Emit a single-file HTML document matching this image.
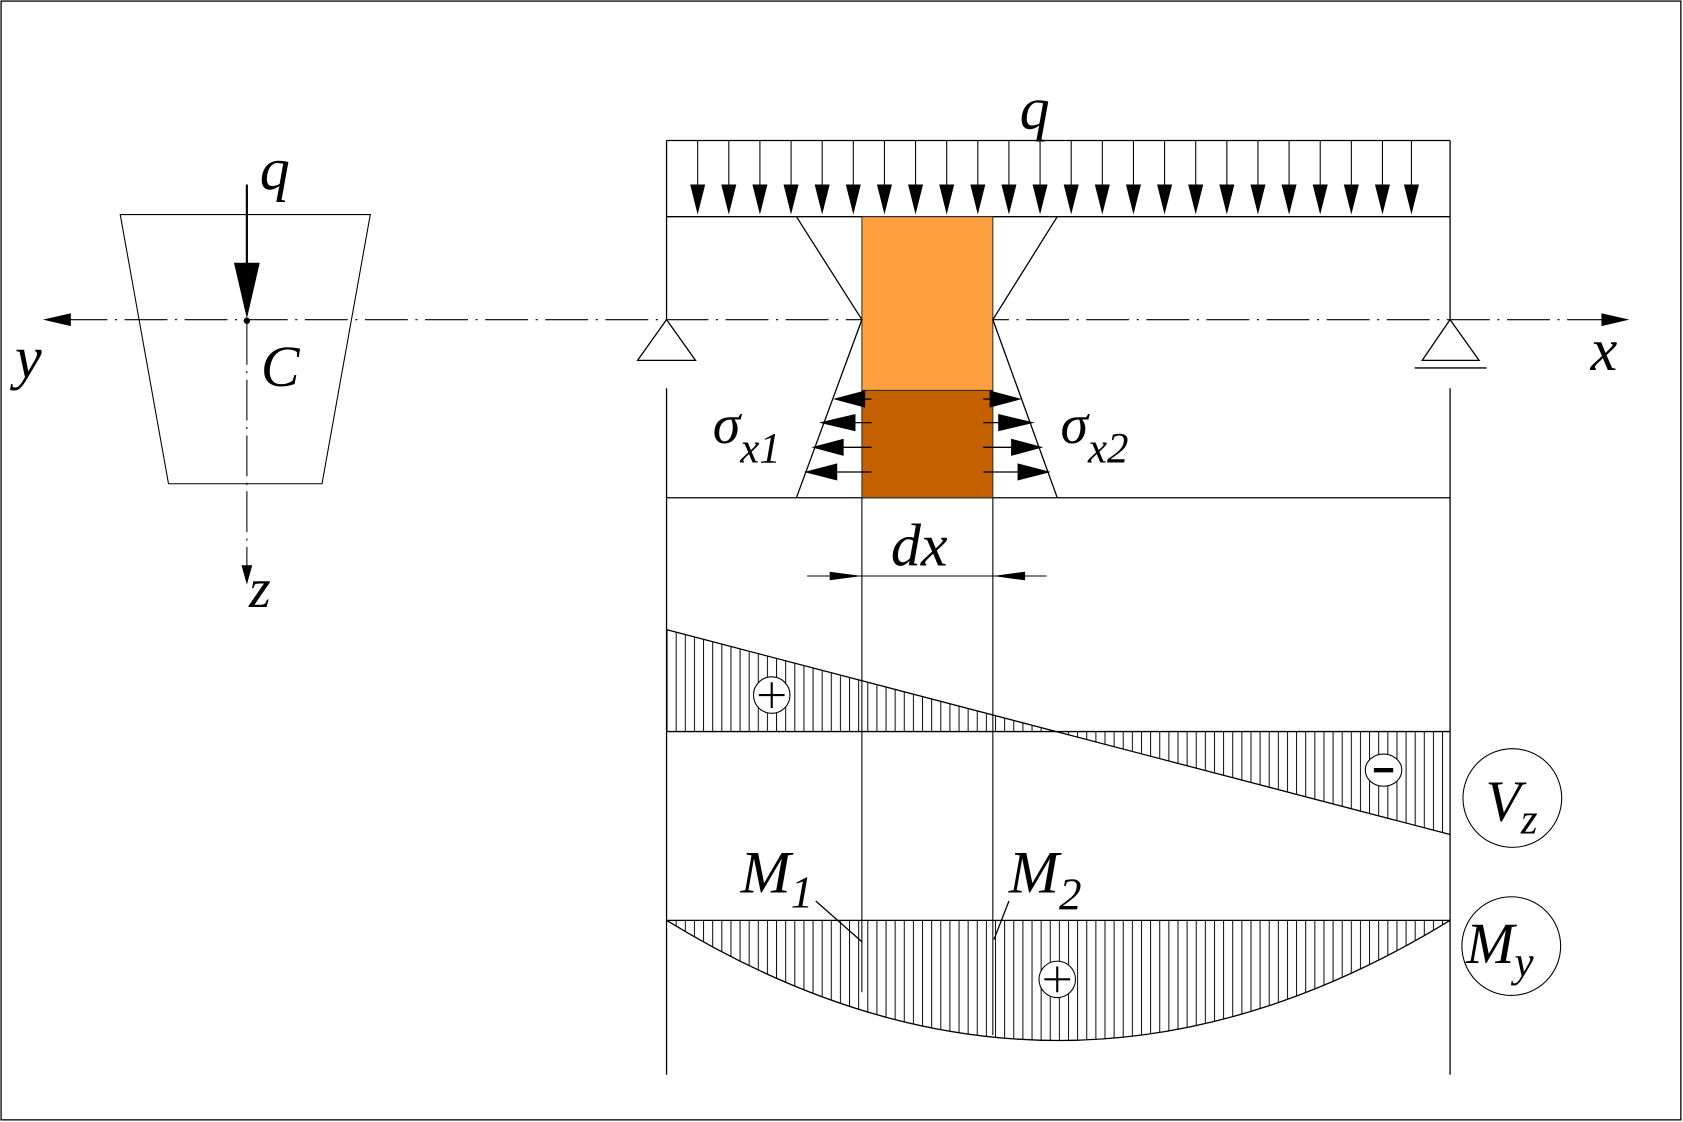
<!DOCTYPE html>
<html><head><meta charset="utf-8"><style>html,body{margin:0;padding:0;background:#fff}svg{display:block}
svg text{font-family:"Liberation Serif","DejaVu Serif",serif;font-style:italic}</style></head>
<body>
<svg width="1683" height="1122" viewBox="0 0 1568 1046" preserveAspectRatio="none" xmlns="http://www.w3.org/2000/svg">
<defs>
<pattern id="h" patternUnits="userSpaceOnUse" width="8.5" height="10" x="621">
<line x1="0.5" y1="0" x2="0.5" y2="10" stroke="#000" stroke-width="0.9"/>
</pattern>
</defs>
<rect x="1" y="1" width="1565" height="1043" fill="#fff" stroke="#000" stroke-width="1.2"/>

<polygon points="112,200 345,200 300,451 157,451" fill="none" stroke="#000" stroke-width="1"/>
<line x1="230" y1="172" x2="230" y2="250" stroke="#000" stroke-width="2"/>
<polygon points="218,245 242,245 230,297" fill="#000"/>
<circle cx="230" cy="299" r="3" fill="#000"/>
<line x1="230" y1="302" x2="230" y2="540" stroke="#000" stroke-width="1" stroke-dasharray="38,6,2,6"/>
<polygon points="225,527 235,527 230,545" fill="#000"/>
<text x="242" y="176" font-size="56">q</text>
<text x="243" y="360" font-size="54">C</text>
<text x="232" y="566" font-size="52">z</text>
<text x="14" y="352" font-size="56">y</text>

<line x1="60" y1="298" x2="1500" y2="298" stroke="#000" stroke-width="1" stroke-dasharray="40,7,2,7"/>
<polygon points="40,298 66,292 66,304" fill="#000"/>
<polygon points="1518,298 1492,292 1492,304" fill="#000"/>
<text x="1482" y="345" font-size="56">x</text>

<g stroke="#000" stroke-width="1.2" fill="none">
<line x1="621" y1="131" x2="1351" y2="131"/>
<line x1="621" y1="202" x2="1351" y2="202"/>
<line x1="621" y1="464" x2="1351" y2="464"/>
<line x1="621" y1="131" x2="621" y2="298"/>
<line x1="1351" y1="131" x2="1351" y2="298"/>
<line x1="621" y1="362" x2="621" y2="1002"/>
<line x1="1351" y1="362" x2="1351" y2="1002"/>
<polygon points="621,298 594,336 648,336"/>
<polygon points="1351,298 1325,336 1378,336"/>
<line x1="1318" y1="343" x2="1385" y2="343"/>
</g>
<text x="950" y="120" font-size="56">q</text>

<g id="arr">
<line x1="650" y1="131" x2="650" y2="175" stroke="#000" stroke-width="1"/>
<polygon points="643,172 657,172 650,200" fill="#000"/>
</g>
<use href="#arr" x="29"/><use href="#arr" x="58"/><use href="#arr" x="87"/><use href="#arr" x="116"/><use href="#arr" x="145"/><use href="#arr" x="174"/><use href="#arr" x="203"/><use href="#arr" x="232"/><use href="#arr" x="261"/><use href="#arr" x="290"/><use href="#arr" x="319"/><use href="#arr" x="348"/><use href="#arr" x="377"/><use href="#arr" x="406"/><use href="#arr" x="435"/><use href="#arr" x="464"/><use href="#arr" x="493"/><use href="#arr" x="522"/><use href="#arr" x="551"/><use href="#arr" x="580"/><use href="#arr" x="609"/><use href="#arr" x="638"/><use href="#arr" x="665"/>

<rect x="803" y="202" width="122" height="162" fill="#FF9F3F" stroke="#333" stroke-width="1"/>
<rect x="803" y="364" width="122" height="100" fill="#C46000" stroke="#333" stroke-width="1"/>
<g stroke="#000" stroke-width="1.2" fill="none">
<polyline points="742,202 803,298 742,464"/>
<polyline points="985,202 925,298 985,464"/>
</g>
<g stroke="#000" stroke-width="1.2">
<line x1="800" y1="372" x2="812" y2="372"/><line x1="790" y1="394" x2="812" y2="394"/><line x1="780" y1="417" x2="812" y2="417"/><line x1="775" y1="440" x2="812" y2="440"/>
<line x1="916" y1="372" x2="930" y2="372"/><line x1="916" y1="394" x2="935" y2="394"/><line x1="916" y1="417" x2="945" y2="417"/><line x1="916" y1="440" x2="950" y2="440"/>
</g>
<g fill="#000">
<polygon points="776,372 806,364 806,380"/>
<polygon points="763,394 797,386 797,402"/>
<polygon points="756,417 786,409 786,425"/>
<polygon points="749,440 780,432 780,448"/>
<polygon points="952,372 922,364 922,380"/>
<polygon points="964,394 930,386 930,402"/>
<polygon points="972,417 942,409 942,425"/>
<polygon points="979,440 948,432 948,448"/>
</g>
<text x="664" y="413" font-size="52">σ<tspan font-size="40" dy="18">x1</tspan></text>
<text x="988" y="413" font-size="52">σ<tspan font-size="40" dy="18">x2</tspan></text>

<g stroke="#000" stroke-width="1">
<line x1="803" y1="464" x2="803" y2="925"/>
<line x1="925" y1="464" x2="925" y2="965"/>
<line x1="752" y1="537" x2="975" y2="537"/>
</g>
<polygon points="803,537 773,533 773,541" fill="#000"/>
<polygon points="925,537 955,533 955,541" fill="#000"/>
<text x="830" y="527" font-size="56">dx</text>

<polygon points="621,587 621,682 984,682" fill="url(#h)"/>
<polygon points="984,682 1351,682 1351,778" fill="url(#h)"/>
<g stroke="#000" stroke-width="1.2" fill="none">
<line x1="621" y1="682" x2="1351" y2="682"/>
<line x1="621" y1="587" x2="1351" y2="778"/>
</g>
<circle cx="719" cy="648" r="17" fill="#fff" stroke="#000" stroke-width="1"/>
<path d="M707,648h24M719,636v24" stroke="#000" stroke-width="2"/>
<ellipse cx="1289" cy="718" rx="17" ry="15" fill="#fff" stroke="#000" stroke-width="1"/>
<path d="M1280,718h18" stroke="#000" stroke-width="4"/>
<circle cx="1409" cy="744" r="46" fill="#fff" stroke="#000" stroke-width="1"/>
<text x="1384" y="765" font-size="54">V<tspan font-size="40" dy="12">z</tspan></text>

<path d="M621,858 Q986,1082 1351,858 Z" fill="url(#h)"/>
<g stroke="#000" stroke-width="1.2" fill="none">
<line x1="621" y1="858" x2="1351" y2="858"/>
<path d="M621,858 Q986,1082 1351,858"/>
<line x1="760" y1="840" x2="803" y2="878"/>
<line x1="940" y1="840" x2="926" y2="876"/>
</g>
<circle cx="985" cy="913" r="17" fill="#fff" stroke="#000" stroke-width="1"/>
<path d="M973,913h24M985,901v24" stroke="#000" stroke-width="2"/>
<text x="690" y="832" font-size="56">M<tspan font-size="42" dy="14">1</tspan></text>
<text x="940" y="832" font-size="56">M<tspan font-size="42" dy="16">2</tspan></text>
<circle cx="1408" cy="882" r="46" fill="#fff" stroke="#000" stroke-width="1"/>
<text x="1366" y="898" font-size="54">M<tspan font-size="40" dy="12">y</tspan></text>
</svg>
</body></html>
